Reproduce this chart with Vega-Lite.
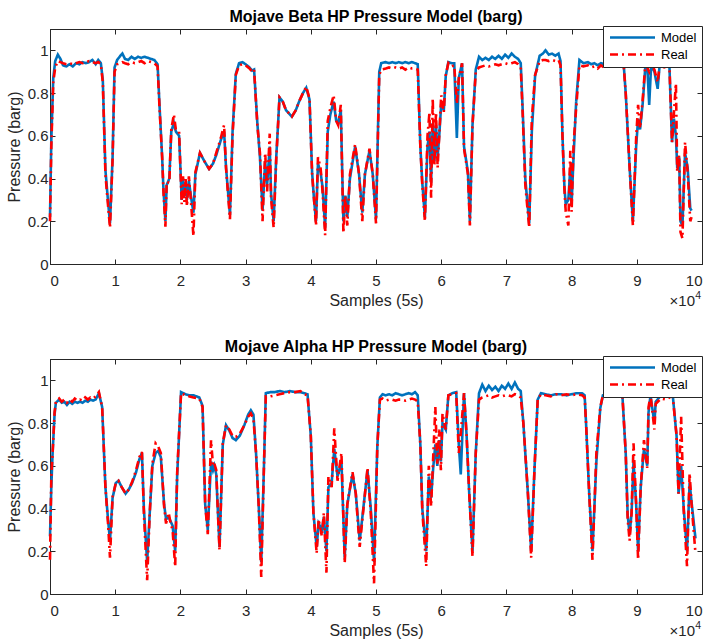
{
 "$schema": "https://vega.github.io/schema/vega-lite/v6.json",
 "padding": {"left": 5, "top": 8, "right": 0, "bottom": 0},
 "spacing": 28,
 "resolve": {"scale": {"color": "independent", "strokeDash": "independent"}, "legend": {"color": "independent", "strokeDash": "independent"}},
 "config": {
  "font": "Liberation Sans",
  "view": {"stroke": "#262626", "strokeWidth": 1},
  "title": {"fontSize": 16, "fontWeight": "bold", "color": "#000000", "offset": 1, "font": "Liberation Sans", "anchor": "middle"},
  "axis": {"domainColor": "#262626", "tickColor": "#262626", "labelColor": "#262626", "titleColor": "#262626", "labelFontSize": 15, "titleFontSize": 16, "titleFontWeight": "normal", "tickSize": -5, "grid": false, "domainWidth": 1, "tickWidth": 1},
  "axisX": {"labelPadding": 14, "titlePadding": 4},
  "axisY": {"labelPadding": 7, "titlePadding": 5},
  "legend": {"orient": "none", "legendX": 553, "legendY": -3, "fillColor": "white", "strokeColor": "#262626", "padding": 5, "labelFontSize": 13, "labelColor": "#000000", "rowPadding": 3, "symbolStrokeWidth": 2.5, "symbolType": "M-1,0H9", "symbolSize": 81, "labelOffset": 40}
 },
 "datasets": {
  "beta": [
   {"x":0.00,"Model":0.22,"Real":0.20},{"x":0.02,"Model":0.58,"Real":0.55},{"x":0.05,"Model":0.87,"Real":0.85},{"x":0.08,"Model":0.95,"Real":0.92},{"x":0.12,"Model":0.98,"Real":0.95},{"x":0.16,"Model":0.96,"Real":0.945},{"x":0.20,"Model":0.93,"Real":0.94},{"x":0.25,"Model":0.925,"Real":0.935},{"x":0.30,"Model":0.935,"Real":0.94},{"x":0.35,"Model":0.925,"Real":0.935},{"x":0.40,"Model":0.94,"Real":0.94},{"x":0.45,"Model":0.935,"Real":0.945},{"x":0.50,"Model":0.945,"Real":0.94},{"x":0.55,"Model":0.94,"Real":0.945},{"x":0.60,"Model":0.945,"Real":0.95},{"x":0.65,"Model":0.955,"Real":0.945},{"x":0.70,"Model":0.935,"Real":0.94},{"x":0.74,"Model":0.955,"Real":0.945},{"x":0.78,"Model":0.94,"Real":0.935},{"x":0.81,"Model":0.86,"Real":0.85},{"x":0.85,"Model":0.44,"Real":0.42},{"x":0.88,"Model":0.33,"Real":0.31},{"x":0.92,"Model":0.19,"Real":0.17},{"x":0.96,"Model":0.50,"Real":0.49},{"x":0.99,"Model":0.92,"Real":0.90},
   {"x":1.03,"Model":0.955,"Real":0.935},{"x":1.08,"Model":0.975,"Real":0.94},{"x":1.11,"Model":0.985,"Real":0.945},{"x":1.15,"Model":0.96,"Real":0.94},{"x":1.20,"Model":0.955,"Real":0.935},{"x":1.25,"Model":0.97,"Real":0.945},{"x":1.30,"Model":0.96,"Real":0.94},{"x":1.35,"Model":0.97,"Real":0.945},{"x":1.40,"Model":0.965,"Real":0.95},{"x":1.45,"Model":0.97,"Real":0.94},{"x":1.50,"Model":0.965,"Real":0.95},{"x":1.55,"Model":0.96,"Real":0.945},{"x":1.60,"Model":0.955,"Real":0.94},{"x":1.65,"Model":0.935,"Real":0.925},{"x":1.68,"Model":0.74,"Real":0.73},{"x":1.72,"Model":0.50,"Real":0.50},{"x":1.74,"Model":0.35,"Real":0.34},{"x":1.77,"Model":0.20,"Real":0.175},{"x":1.79,"Model":0.37,"Real":0.385},{"x":1.83,"Model":0.40,"Real":0.38},{"x":1.86,"Model":0.62,"Real":0.63},{"x":1.90,"Model":0.66,"Real":0.70},{"x":1.93,"Model":0.62,"Real":0.63},{"x":1.98,"Model":0.60,"Real":0.62},
   {"x":2.02,"Model":0.30,"Real":0.28},{"x":2.04,"Model":0.40,"Real":0.41},{"x":2.06,"Model":0.32,"Real":0.29},{"x":2.08,"Model":0.38,"Real":0.40},{"x":2.10,"Model":0.30,"Real":0.27},{"x":2.13,"Model":0.39,"Real":0.41},{"x":2.16,"Model":0.32,"Real":0.30},{"x":2.20,"Model":0.24,"Real":0.13},{"x":2.23,"Model":0.42,"Real":0.43},{"x":2.30,"Model":0.52,"Real":0.52},{"x":2.37,"Model":0.48,"Real":0.48},{"x":2.44,"Model":0.445,"Real":0.445},{"x":2.50,"Model":0.47,"Real":0.47},{"x":2.55,"Model":0.51,"Real":0.52},{"x":2.62,"Model":0.58,"Real":0.59},{"x":2.67,"Model":0.62,"Real":0.65},{"x":2.70,"Model":0.45,"Real":0.45},{"x":2.76,"Model":0.23,"Real":0.21},{"x":2.80,"Model":0.62,"Real":0.60},{"x":2.85,"Model":0.89,"Real":0.885},{"x":2.90,"Model":0.94,"Real":0.93},{"x":2.95,"Model":0.945,"Real":0.935},
   {"x":3.00,"Model":0.935,"Real":0.93},{"x":3.06,"Model":0.92,"Real":0.915},{"x":3.10,"Model":0.905,"Real":0.90},{"x":3.13,"Model":0.91,"Real":0.91},{"x":3.18,"Model":0.66,"Real":0.65},{"x":3.22,"Model":0.50,"Real":0.52},{"x":3.26,"Model":0.25,"Real":0.20},{"x":3.30,"Model":0.48,"Real":0.52},{"x":3.33,"Model":0.37,"Real":0.34},{"x":3.37,"Model":0.55,"Real":0.61},{"x":3.39,"Model":0.33,"Real":0.31},{"x":3.43,"Model":0.20,"Real":0.17},{"x":3.47,"Model":0.50,"Real":0.49},{"x":3.52,"Model":0.78,"Real":0.78},{"x":3.57,"Model":0.76,"Real":0.76},{"x":3.62,"Model":0.72,"Real":0.72},{"x":3.71,"Model":0.69,"Real":0.69},{"x":3.77,"Model":0.72,"Real":0.72},{"x":3.82,"Model":0.76,"Real":0.76},{"x":3.88,"Model":0.80,"Real":0.80},{"x":3.93,"Model":0.825,"Real":0.83},{"x":3.98,"Model":0.77,"Real":0.775},
   {"x":4.02,"Model":0.43,"Real":0.42},{"x":4.05,"Model":0.30,"Real":0.30},{"x":4.08,"Model":0.20,"Real":0.18},{"x":4.11,"Model":0.47,"Real":0.50},{"x":4.15,"Model":0.43,"Real":0.45},{"x":4.18,"Model":0.36,"Real":0.34},{"x":4.22,"Model":0.17,"Real":0.135},{"x":4.26,"Model":0.62,"Real":0.67},{"x":4.30,"Model":0.70,"Real":0.73},{"x":4.35,"Model":0.76,"Real":0.79},{"x":4.39,"Model":0.67,"Real":0.67},{"x":4.42,"Model":0.66,"Real":0.65},{"x":4.46,"Model":0.72,"Real":0.745},{"x":4.50,"Model":0.20,"Real":0.145},{"x":4.53,"Model":0.32,"Real":0.32},{"x":4.56,"Model":0.22,"Real":0.18},{"x":4.60,"Model":0.40,"Real":0.42},{"x":4.68,"Model":0.55,"Real":0.56},{"x":4.74,"Model":0.42,"Real":0.42},{"x":4.79,"Model":0.24,"Real":0.20},{"x":4.83,"Model":0.42,"Real":0.42},{"x":4.90,"Model":0.53,"Real":0.54},{"x":4.95,"Model":0.42,"Real":0.42},
   {"x":5.00,"Model":0.21,"Real":0.19},{"x":5.05,"Model":0.90,"Real":0.885},{"x":5.08,"Model":0.94,"Real":0.91},{"x":5.15,"Model":0.945,"Real":0.915},{"x":5.20,"Model":0.94,"Real":0.92},{"x":5.25,"Model":0.945,"Real":0.915},{"x":5.30,"Model":0.94,"Real":0.92},{"x":5.35,"Model":0.945,"Real":0.915},{"x":5.40,"Model":0.94,"Real":0.92},{"x":5.45,"Model":0.945,"Real":0.91},{"x":5.50,"Model":0.94,"Real":0.92},{"x":5.55,"Model":0.945,"Real":0.915},{"x":5.60,"Model":0.94,"Real":0.915},{"x":5.64,"Model":0.935,"Real":0.91},{"x":5.68,"Model":0.55,"Real":0.55},{"x":5.71,"Model":0.38,"Real":0.37},{"x":5.75,"Model":0.22,"Real":0.20},{"x":5.79,"Model":0.55,"Real":0.60},{"x":5.82,"Model":0.62,"Real":0.71},{"x":5.845,"Model":0.38,"Real":0.31},{"x":5.87,"Model":0.66,"Real":0.775},{"x":5.895,"Model":0.48,"Real":0.46},{"x":5.92,"Model":0.65,"Real":0.71},{"x":5.945,"Model":0.50,"Real":0.45},{"x":5.97,"Model":0.60,"Real":0.60},
   {"x":6.00,"Model":0.75,"Real":0.79},{"x":6.04,"Model":0.72,"Real":0.71},{"x":6.07,"Model":0.88,"Real":0.885},{"x":6.11,"Model":0.945,"Real":0.94},{"x":6.16,"Model":0.94,"Real":0.925},{"x":6.20,"Model":0.94,"Real":0.93},{"x":6.24,"Model":0.59,"Real":0.75},{"x":6.27,"Model":0.87,"Real":0.87},{"x":6.32,"Model":0.94,"Real":0.94},{"x":6.35,"Model":0.55,"Real":0.54},{"x":6.41,"Model":0.43,"Real":0.42},{"x":6.44,"Model":0.20,"Real":0.18},{"x":6.48,"Model":0.65,"Real":0.65},{"x":6.53,"Model":0.91,"Real":0.90},{"x":6.58,"Model":0.97,"Real":0.92},{"x":6.63,"Model":0.955,"Real":0.925},{"x":6.68,"Model":0.965,"Real":0.93},{"x":6.73,"Model":0.955,"Real":0.925},{"x":6.78,"Model":0.97,"Real":0.93},{"x":6.83,"Model":0.96,"Real":0.935},{"x":6.88,"Model":0.975,"Real":0.93},{"x":6.93,"Model":0.96,"Real":0.935},{"x":6.98,"Model":0.98,"Real":0.94},
   {"x":7.03,"Model":0.965,"Real":0.935},{"x":7.08,"Model":0.985,"Real":0.94},{"x":7.13,"Model":0.97,"Real":0.945},{"x":7.18,"Model":0.96,"Real":0.935},{"x":7.22,"Model":0.94,"Real":0.92},{"x":7.25,"Model":0.72,"Real":0.70},{"x":7.29,"Model":0.40,"Real":0.37},{"x":7.35,"Model":0.19,"Real":0.17},{"x":7.39,"Model":0.62,"Real":0.68},{"x":7.44,"Model":0.88,"Real":0.885},{"x":7.51,"Model":0.975,"Real":0.95},{"x":7.56,"Model":0.985,"Real":0.955},{"x":7.60,"Model":1.0,"Real":0.955},{"x":7.65,"Model":0.98,"Real":0.95},{"x":7.70,"Model":0.985,"Real":0.955},{"x":7.75,"Model":0.975,"Real":0.95},{"x":7.80,"Model":0.985,"Real":0.955},{"x":7.83,"Model":0.95,"Real":0.93},{"x":7.86,"Model":0.60,"Real":0.60},{"x":7.89,"Model":0.36,"Real":0.35},{"x":7.91,"Model":0.28,"Real":0.245},{"x":7.95,"Model":0.30,"Real":0.18},{"x":7.98,"Model":0.45,"Real":0.53},
   {"x":8.00,"Model":0.28,"Real":0.245},{"x":8.03,"Model":0.50,"Real":0.56},{"x":8.07,"Model":0.76,"Real":0.73},{"x":8.12,"Model":0.955,"Real":0.93},{"x":8.18,"Model":0.94,"Real":0.925},{"x":8.25,"Model":0.945,"Real":0.93},{"x":8.30,"Model":0.935,"Real":0.92},{"x":8.35,"Model":0.94,"Real":0.925},{"x":8.40,"Model":0.93,"Real":0.915},{"x":8.45,"Model":0.94,"Real":0.93},{"x":8.50,"Model":0.935,"Real":0.92},{"x":8.55,"Model":0.94,"Real":0.925},{"x":8.60,"Model":0.935,"Real":0.93},{"x":8.65,"Model":0.94,"Real":0.925},{"x":8.70,"Model":0.93,"Real":0.93},{"x":8.75,"Model":0.935,"Real":0.93},{"x":8.80,"Model":0.93,"Real":0.925},{"x":8.83,"Model":0.80,"Real":0.80},{"x":8.89,"Model":0.45,"Real":0.45},{"x":8.94,"Model":0.20,"Real":0.18},{"x":8.99,"Model":0.55,"Real":0.59},
   {"x":9.02,"Model":0.68,"Real":0.745},{"x":9.05,"Model":0.63,"Real":0.635},{"x":9.09,"Model":0.75,"Real":0.77},{"x":9.13,"Model":0.92,"Real":0.93},{"x":9.16,"Model":0.93,"Real":0.92},{"x":9.19,"Model":0.745,"Real":0.90},{"x":9.22,"Model":0.93,"Real":0.93},{"x":9.27,"Model":0.90,"Real":0.91},{"x":9.32,"Model":0.82,"Real":0.85},{"x":9.35,"Model":0.93,"Real":0.93},{"x":9.42,"Model":0.93,"Real":0.92},{"x":9.50,"Model":0.93,"Real":0.93},{"x":9.54,"Model":0.57,"Real":0.57},{"x":9.57,"Model":0.68,"Real":0.71},{"x":9.60,"Model":0.60,"Real":0.845},{"x":9.62,"Model":0.45,"Real":0.43},{"x":9.65,"Model":0.50,"Real":0.51},{"x":9.67,"Model":0.20,"Real":0.15},{"x":9.70,"Model":0.18,"Real":0.12},{"x":9.74,"Model":0.52,"Real":0.57},{"x":9.78,"Model":0.45,"Real":0.43},{"x":9.82,"Model":0.26,"Real":0.20},{"x":9.84,"Model":0.25,"Real":0.22}
  ],
  "alpha": [
   {"x":0.00,"Model":0.27,"Real":0.16},{"x":0.02,"Model":0.50,"Real":0.55},{"x":0.04,"Model":0.66,"Real":0.66},{"x":0.07,"Model":0.84,"Real":0.85},{"x":0.09,"Model":0.895,"Real":0.90},{"x":0.14,"Model":0.91,"Real":0.915},{"x":0.18,"Model":0.895,"Real":0.90},{"x":0.22,"Model":0.90,"Real":0.91},{"x":0.26,"Model":0.885,"Real":0.895},{"x":0.30,"Model":0.90,"Real":0.91},{"x":0.34,"Model":0.89,"Real":0.90},{"x":0.38,"Model":0.90,"Real":0.915},{"x":0.42,"Model":0.895,"Real":0.905},{"x":0.46,"Model":0.90,"Real":0.91},{"x":0.50,"Model":0.895,"Real":0.905},{"x":0.54,"Model":0.905,"Real":0.92},{"x":0.58,"Model":0.90,"Real":0.91},{"x":0.62,"Model":0.91,"Real":0.92},{"x":0.66,"Model":0.905,"Real":0.915},{"x":0.70,"Model":0.91,"Real":0.925},{"x":0.75,"Model":0.94,"Real":0.945},{"x":0.80,"Model":0.875,"Real":0.875},{"x":0.85,"Model":0.50,"Real":0.50},{"x":0.89,"Model":0.35,"Real":0.33},{"x":0.92,"Model":0.25,"Real":0.17},{"x":0.96,"Model":0.45,"Real":0.455},
   {"x":1.01,"Model":0.52,"Real":0.52},{"x":1.05,"Model":0.53,"Real":0.53},{"x":1.10,"Model":0.50,"Real":0.50},{"x":1.16,"Model":0.47,"Real":0.47},{"x":1.21,"Model":0.49,"Real":0.49},{"x":1.26,"Model":0.52,"Real":0.525},{"x":1.32,"Model":0.57,"Real":0.58},{"x":1.37,"Model":0.63,"Real":0.64},{"x":1.41,"Model":0.66,"Real":0.665},{"x":1.44,"Model":0.40,"Real":0.38},{"x":1.49,"Model":0.15,"Real":0.065},{"x":1.53,"Model":0.38,"Real":0.38},{"x":1.57,"Model":0.60,"Real":0.61},{"x":1.62,"Model":0.66,"Real":0.705},{"x":1.66,"Model":0.67,"Real":0.69},{"x":1.70,"Model":0.64,"Real":0.66},{"x":1.75,"Model":0.42,"Real":0.41},{"x":1.78,"Model":0.35,"Real":0.33},{"x":1.82,"Model":0.36,"Real":0.38},{"x":1.85,"Model":0.34,"Real":0.33},{"x":1.88,"Model":0.32,"Real":0.30},{"x":1.92,"Model":0.20,"Real":0.128},{"x":1.95,"Model":0.55,"Real":0.565},
   {"x":2.01,"Model":0.945,"Real":0.94},{"x":2.08,"Model":0.935,"Real":0.93},{"x":2.14,"Model":0.93,"Real":0.925},{"x":2.20,"Model":0.93,"Real":0.92},{"x":2.29,"Model":0.92,"Real":0.915},{"x":2.34,"Model":0.88,"Real":0.875},{"x":2.38,"Model":0.42,"Real":0.42},{"x":2.42,"Model":0.30,"Real":0.28},{"x":2.47,"Model":0.62,"Real":0.72},{"x":2.50,"Model":0.58,"Real":0.60},{"x":2.52,"Model":0.60,"Real":0.61},{"x":2.55,"Model":0.56,"Real":0.58},{"x":2.57,"Model":0.42,"Real":0.42},{"x":2.60,"Model":0.22,"Real":0.205},{"x":2.65,"Model":0.70,"Real":0.705},{"x":2.70,"Model":0.79,"Real":0.79},{"x":2.75,"Model":0.765,"Real":0.77},{"x":2.80,"Model":0.73,"Real":0.74},{"x":2.85,"Model":0.72,"Real":0.735},{"x":2.91,"Model":0.74,"Real":0.75},{"x":2.98,"Model":0.79,"Real":0.79},
   {"x":3.04,"Model":0.84,"Real":0.83},{"x":3.08,"Model":0.86,"Real":0.845},{"x":3.12,"Model":0.84,"Real":0.82},{"x":3.16,"Model":0.66,"Real":0.66},{"x":3.20,"Model":0.42,"Real":0.42},{"x":3.24,"Model":0.15,"Real":0.08},{"x":3.28,"Model":0.58,"Real":0.58},{"x":3.31,"Model":0.94,"Real":0.925},{"x":3.38,"Model":0.945,"Real":0.925},{"x":3.45,"Model":0.945,"Real":0.93},{"x":3.52,"Model":0.95,"Real":0.935},{"x":3.60,"Model":0.945,"Real":0.94},{"x":3.68,"Model":0.95,"Real":0.945},{"x":3.76,"Model":0.945,"Real":0.945},{"x":3.84,"Model":0.945,"Real":0.95},{"x":3.90,"Model":0.94,"Real":0.935},{"x":3.95,"Model":0.935,"Real":0.93},
   {"x":4.00,"Model":0.74,"Real":0.74},{"x":4.04,"Model":0.38,"Real":0.38},{"x":4.09,"Model":0.22,"Real":0.19},{"x":4.12,"Model":0.33,"Real":0.35},{"x":4.17,"Model":0.30,"Real":0.27},{"x":4.20,"Model":0.36,"Real":0.38},{"x":4.24,"Model":0.20,"Real":0.10},{"x":4.27,"Model":0.50,"Real":0.55},{"x":4.32,"Model":0.52,"Real":0.50},{"x":4.36,"Model":0.68,"Real":0.775},{"x":4.41,"Model":0.55,"Real":0.53},{"x":4.47,"Model":0.62,"Real":0.66},{"x":4.52,"Model":0.17,"Real":0.145},{"x":4.56,"Model":0.42,"Real":0.42},{"x":4.64,"Model":0.56,"Real":0.57},{"x":4.69,"Model":0.47,"Real":0.47},{"x":4.75,"Model":0.25,"Real":0.22},{"x":4.78,"Model":0.33,"Real":0.315},{"x":4.87,"Model":0.58,"Real":0.59},{"x":4.92,"Model":0.40,"Real":0.38},{"x":4.97,"Model":0.15,"Real":0.05},
   {"x":5.02,"Model":0.69,"Real":0.69},{"x":5.06,"Model":0.92,"Real":0.91},{"x":5.10,"Model":0.935,"Real":0.915},{"x":5.15,"Model":0.93,"Real":0.905},{"x":5.20,"Model":0.935,"Real":0.91},{"x":5.25,"Model":0.93,"Real":0.91},{"x":5.30,"Model":0.94,"Real":0.905},{"x":5.35,"Model":0.935,"Real":0.91},{"x":5.40,"Model":0.93,"Real":0.91},{"x":5.45,"Model":0.935,"Real":0.905},{"x":5.50,"Model":0.94,"Real":0.91},{"x":5.55,"Model":0.935,"Real":0.915},{"x":5.60,"Model":0.945,"Real":0.91},{"x":5.64,"Model":0.93,"Real":0.90},{"x":5.68,"Model":0.70,"Real":0.70},{"x":5.71,"Model":0.40,"Real":0.39},{"x":5.77,"Model":0.20,"Real":0.13},{"x":5.81,"Model":0.55,"Real":0.60},{"x":5.845,"Model":0.45,"Real":0.41},{"x":5.88,"Model":0.60,"Real":0.66},{"x":5.91,"Model":0.70,"Real":0.875},{"x":5.94,"Model":0.60,"Real":0.61},{"x":5.97,"Model":0.72,"Real":0.77},{"x":5.995,"Model":0.62,"Real":0.58},
   {"x":6.02,"Model":0.80,"Real":0.845},{"x":6.07,"Model":0.77,"Real":0.77},{"x":6.11,"Model":0.93,"Real":0.93},{"x":6.17,"Model":0.94,"Real":0.935},{"x":6.23,"Model":0.945,"Real":0.94},{"x":6.27,"Model":0.70,"Real":0.66},{"x":6.30,"Model":0.56,"Real":0.75},{"x":6.35,"Model":0.94,"Real":0.94},{"x":6.39,"Model":0.74,"Real":0.74},{"x":6.43,"Model":0.47,"Real":0.47},{"x":6.48,"Model":0.20,"Real":0.175},{"x":6.53,"Model":0.66,"Real":0.66},{"x":6.58,"Model":0.94,"Real":0.91},{"x":6.63,"Model":0.98,"Real":0.92},{"x":6.68,"Model":0.95,"Real":0.925},{"x":6.73,"Model":0.975,"Real":0.93},{"x":6.78,"Model":0.955,"Real":0.92},{"x":6.83,"Model":0.97,"Real":0.925},{"x":6.88,"Model":0.95,"Real":0.93},{"x":6.93,"Model":0.975,"Real":0.925},{"x":6.98,"Model":0.96,"Real":0.93},
   {"x":7.03,"Model":0.985,"Real":0.93},{"x":7.08,"Model":0.96,"Real":0.925},{"x":7.13,"Model":0.99,"Real":0.935},{"x":7.18,"Model":0.96,"Real":0.93},{"x":7.22,"Model":0.95,"Real":0.92},{"x":7.26,"Model":0.80,"Real":0.80},{"x":7.33,"Model":0.47,"Real":0.47},{"x":7.38,"Model":0.20,"Real":0.17},{"x":7.43,"Model":0.58,"Real":0.58},{"x":7.48,"Model":0.91,"Real":0.91},{"x":7.53,"Model":0.94,"Real":0.935},{"x":7.60,"Model":0.935,"Real":0.93},{"x":7.68,"Model":0.93,"Real":0.925},{"x":7.76,"Model":0.935,"Real":0.935},{"x":7.84,"Model":0.935,"Real":0.93},{"x":7.92,"Model":0.93,"Real":0.935},
   {"x":8.00,"Model":0.935,"Real":0.93},{"x":8.08,"Model":0.94,"Real":0.935},{"x":8.16,"Model":0.94,"Real":0.93},{"x":8.20,"Model":0.93,"Real":0.92},{"x":8.22,"Model":0.81,"Real":0.81},{"x":8.27,"Model":0.47,"Real":0.47},{"x":8.32,"Model":0.20,"Real":0.16},{"x":8.38,"Model":0.62,"Real":0.66},{"x":8.44,"Model":0.87,"Real":0.875},{"x":8.48,"Model":0.93,"Real":0.93},{"x":8.55,"Model":0.935,"Real":0.93},{"x":8.65,"Model":0.93,"Real":0.93},{"x":8.73,"Model":0.93,"Real":0.93},{"x":8.78,"Model":0.925,"Real":0.925},{"x":8.83,"Model":0.66,"Real":0.66},{"x":8.86,"Model":0.37,"Real":0.35},{"x":8.89,"Model":0.28,"Real":0.25},{"x":8.92,"Model":0.38,"Real":0.38},{"x":8.95,"Model":0.62,"Real":0.705},{"x":8.99,"Model":0.42,"Real":0.42},
   {"x":9.02,"Model":0.20,"Real":0.16},{"x":9.06,"Model":0.50,"Real":0.50},{"x":9.11,"Model":0.68,"Real":0.72},{"x":9.16,"Model":0.60,"Real":0.59},{"x":9.18,"Model":0.85,"Real":0.875},{"x":9.21,"Model":0.93,"Real":0.93},{"x":9.27,"Model":0.80,"Real":0.77},{"x":9.29,"Model":0.90,"Real":0.89},{"x":9.37,"Model":0.93,"Real":0.915},{"x":9.45,"Model":0.93,"Real":0.91},{"x":9.55,"Model":0.935,"Real":0.93},{"x":9.61,"Model":0.74,"Real":0.74},{"x":9.64,"Model":0.47,"Real":0.47},{"x":9.68,"Model":0.60,"Real":0.83},{"x":9.72,"Model":0.40,"Real":0.39},{"x":9.77,"Model":0.20,"Real":0.13},{"x":9.81,"Model":0.52,"Real":0.565},{"x":9.84,"Model":0.43,"Real":0.42},{"x":9.90,"Model":0.26,"Real":0.19}
  ]
 },
 "vconcat": [
  {
   "title": "Mojave Beta HP Pressure Model (barg)",
   "width": 652, "height": 235,
   "resolve": {"axis": {"x": "independent", "y": "independent"}},
   "layer": [
    {"data": {"name": "beta"}, "mark": {"type": "line", "strokeWidth": 2.6},
     "encoding": {
      "x": {"field": "x", "type": "quantitative", "scale": {"domain": [0, 10], "nice": false, "zero": false}, "axis": {"orient": "bottom", "title": "Samples (5s)", "values": [0,1,2,3,4,5,6,7,8,9,10], "format": "d"}},
      "y": {"field": "Model", "type": "quantitative", "scale": {"domain": [0, 1.1], "nice": false}, "axis": {"orient": "left", "title": "Pressure (barg)", "values": [0,0.2,0.4,0.6,0.8,1], "format": "~g"}},
      "color": {"datum": "Model", "scale": {"domain": ["Model", "Real"], "range": ["#0072BD", "#FF0000"]}, "legend": {"title": null}},
      "strokeDash": {"datum": "Model", "scale": {"domain": ["Model", "Real"], "range": [[1, 0], [8, 4, 2, 4]]}, "legend": {"title": null}}
     }},
    {"data": {"name": "beta"}, "mark": {"type": "line", "strokeWidth": 2.6},
     "encoding": {
      "x": {"field": "x", "type": "quantitative", "axis": {"orient": "top", "labels": false, "title": "", "titlePadding": 0, "domain": true, "ticks": true, "tickSize": -5, "values": [0,1,2,3,4,5,6,7,8,9,10]}},
      "y": {"field": "Real", "type": "quantitative", "axis": {"orient": "right", "labels": false, "title": "", "titlePadding": 0, "domain": true, "ticks": true, "tickSize": -5, "values": [0,0.2,0.4,0.6,0.8,1]}},
      "color": {"datum": "Real"},
      "strokeDash": {"datum": "Real"}
     }},
    {"data": {"values": [{"t": "×10"}]}, "mark": {"type": "text", "align": "right", "baseline": "alphabetic", "dx": -7, "dy": 42, "fontSize": 15, "color": "#262626"},
     "encoding": {"x": {"datum": 10, "type": "quantitative", "axis": null}, "y": {"datum": 0, "type": "quantitative", "axis": null}, "text": {"field": "t"}}},
    {"data": {"values": [{"t": "4"}]}, "mark": {"type": "text", "align": "right", "baseline": "alphabetic", "dx": -1, "dy": 35, "fontSize": 10.5, "color": "#262626"},
     "encoding": {"x": {"datum": 10, "type": "quantitative", "axis": null}, "y": {"datum": 0, "type": "quantitative", "axis": null}, "text": {"field": "t"}}}
   ]
  },
  {
   "title": "Mojave Alpha HP Pressure Model (barg)",
   "width": 652, "height": 235,
   "resolve": {"axis": {"x": "independent", "y": "independent"}},
   "layer": [
    {"data": {"name": "alpha"}, "mark": {"type": "line", "strokeWidth": 2.6},
     "encoding": {
      "x": {"field": "x", "type": "quantitative", "scale": {"domain": [0, 10], "nice": false, "zero": false}, "axis": {"orient": "bottom", "title": "Samples (5s)", "values": [0,1,2,3,4,5,6,7,8,9,10], "format": "d"}},
      "y": {"field": "Model", "type": "quantitative", "scale": {"domain": [0, 1.1], "nice": false}, "axis": {"orient": "left", "title": "Pressure (barg)", "values": [0,0.2,0.4,0.6,0.8,1], "format": "~g"}},
      "color": {"datum": "Model", "scale": {"domain": ["Model", "Real"], "range": ["#0072BD", "#FF0000"]}, "legend": {"title": null}},
      "strokeDash": {"datum": "Model", "scale": {"domain": ["Model", "Real"], "range": [[1, 0], [8, 4, 2, 4]]}, "legend": {"title": null}}
     }},
    {"data": {"name": "alpha"}, "mark": {"type": "line", "strokeWidth": 2.6},
     "encoding": {
      "x": {"field": "x", "type": "quantitative", "axis": {"orient": "top", "labels": false, "title": "", "titlePadding": 0, "domain": true, "ticks": true, "tickSize": -5, "values": [0,1,2,3,4,5,6,7,8,9,10]}},
      "y": {"field": "Real", "type": "quantitative", "axis": {"orient": "right", "labels": false, "title": "", "titlePadding": 0, "domain": true, "ticks": true, "tickSize": -5, "values": [0,0.2,0.4,0.6,0.8,1]}},
      "color": {"datum": "Real"},
      "strokeDash": {"datum": "Real"}
     }},
    {"data": {"values": [{"t": "×10"}]}, "mark": {"type": "text", "align": "right", "baseline": "alphabetic", "dx": -7, "dy": 42, "fontSize": 15, "color": "#262626"},
     "encoding": {"x": {"datum": 10, "type": "quantitative", "axis": null}, "y": {"datum": 0, "type": "quantitative", "axis": null}, "text": {"field": "t"}}},
    {"data": {"values": [{"t": "4"}]}, "mark": {"type": "text", "align": "right", "baseline": "alphabetic", "dx": -1, "dy": 35, "fontSize": 10.5, "color": "#262626"},
     "encoding": {"x": {"datum": 10, "type": "quantitative", "axis": null}, "y": {"datum": 0, "type": "quantitative", "axis": null}, "text": {"field": "t"}}}
   ]
  }
 ]
}
